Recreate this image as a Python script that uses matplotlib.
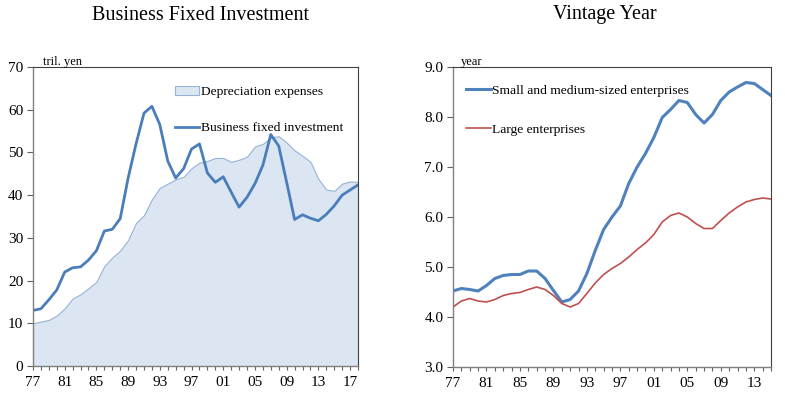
import matplotlib
matplotlib.use("Agg")
import matplotlib.pyplot as plt
from matplotlib.patches import Patch
from matplotlib.lines import Line2D
import numpy as np

plt.rcParams['font.family'] = ['Liberation Serif', 'DejaVu Serif']

# ---- Data ----
years_left = list(range(1977, 2019))
business_fixed_investment = [13.0, 13.4, 15.5, 17.8, 22.0, 23.0, 23.2, 24.8, 27.0, 31.6,
                             32.0, 34.5, 44.0, 52.0, 59.2, 60.8, 56.5, 48.0, 44.0, 46.2,
                             50.8, 52.0, 45.2, 43.0, 44.3, 40.7, 37.2, 39.5, 42.7, 47.0,
                             54.2, 51.5, 43.0, 34.3, 35.4, 34.6, 34.0, 35.5, 37.5, 40.0,
                             41.2, 42.4]
depreciation_expenses = [10.0, 10.4, 10.8, 11.8, 13.5, 15.8, 16.8, 18.2, 19.7, 23.4,
                         25.4, 27.0, 29.5, 33.5, 35.3, 39.0, 41.7, 42.7, 43.7, 44.3,
                         46.3, 47.6, 48.0, 48.7, 48.7, 47.8, 48.3, 49.0, 51.4, 52.0,
                         53.5, 53.8, 52.3, 50.5, 49.2, 47.8, 43.8, 41.3, 41.0, 42.7,
                         43.2, 43.1]

years_right = list(range(1977, 2016))
small_medium = [4.52, 4.57, 4.55, 4.52, 4.63, 4.77, 4.83, 4.85, 4.85, 4.92,
                4.92, 4.77, 4.53, 4.30, 4.35, 4.52, 4.87, 5.33, 5.75, 6.00,
                6.22, 6.67, 7.00, 7.27, 7.59, 7.99, 8.15, 8.33, 8.29, 8.05,
                7.88, 8.05, 8.33, 8.50, 8.60, 8.69, 8.67, 8.55, 8.43]
large = [4.20, 4.32, 4.37, 4.32, 4.30, 4.35, 4.43, 4.47, 4.49, 4.55,
         4.60, 4.55, 4.43, 4.27, 4.20, 4.27, 4.47, 4.68, 4.85, 4.97,
         5.07, 5.20, 5.35, 5.48, 5.65, 5.90, 6.03, 6.08, 6.00, 5.87,
         5.77, 5.77, 5.93, 6.08, 6.20, 6.30, 6.35, 6.38, 6.36]

left_ticks = list(range(1977, 2019, 4))
left_ticklabels = ['77', '81', '85', '89', '93', '97', '01', '05', '09', '13', '17']
right_ticks = list(range(1977, 2016, 4))
right_ticklabels = ['77', '81', '85', '89', '93', '97', '01', '05', '09', '13']

# ---- Figure ----
fig = plt.figure(figsize=(7.85, 3.95), dpi=100)
axL = fig.add_axes([33/785, 29/395, 325/785, 299/395])
axR = fig.add_axes([453/785, 28/395, 318/785, 300/395])

fill_color = '#DCE6F2'
fill_edge = '#95B3D7'
blue = '#4A7EBB'
red = '#C0504D'
tick_fs = 11
leg_fs = 9.7

# Left panel
axL.fill_between(years_left, depreciation_expenses, 0, facecolor=fill_color,
                 edgecolor=fill_edge, linewidth=0.8)
axL.plot(years_left, business_fixed_investment, color=blue, lw=2.0)
axL.set_xlim(1977, 2018)
axL.set_ylim(0, 70)
axL.set_yticks(range(0, 71, 10))
axL.set_xticks(left_ticks)
axL.set_xticklabels(left_ticklabels)
axL.set_xticks(years_left, minor=True)

# Right panel
axR.plot(years_right, small_medium, color='#4F81BD', lw=2.2)
axR.plot(years_right, large, color=red, lw=1.2)
axR.set_xlim(1977, 2015)
axR.set_ylim(3.0, 9.0)
axR.set_yticks(np.arange(3.0, 9.01, 1.0))
axR.set_yticklabels([f'{v:.1f}' for v in np.arange(3.0, 9.01, 1.0)])
axR.set_xticks(right_ticks)
axR.set_xticklabels(right_ticklabels)
axR.set_xticks(years_right, minor=True)

for ax in (axL, axR):
    for side in ('top', 'right'):
        ax.spines[side].set_color('#404040')
        ax.spines[side].set_linewidth(0.8)
    for side in ('left', 'bottom'):
        ax.spines[side].set_color('#808080')
        ax.spines[side].set_linewidth(1.0)
    ax.tick_params(axis='y', direction='out', length=4, width=0.8, colors='#606060',
                   labelcolor='black', labelsize=tick_fs, pad=3)
    ax.tick_params(axis='x', which='both', direction='out', length=3, width=0.8,
                   colors='#606060', labelcolor='black', labelsize=tick_fs, pad=4)

# Titles and unit labels
fig.text(200/785, 1 - 15/395, 'Business Fixed Investment', ha='center', va='center',
         fontsize=14.5)
fig.text(605/785, 1 - 15/395, 'Vintage Year', ha='center', va='center', fontsize=14.5)
axL.text(0.03, 0.998, 'tril. yen', transform=axL.transAxes, ha='left', va='bottom',
         fontsize=9)
axR.text(0.025, 0.998, 'year', transform=axR.transAxes, ha='left', va='bottom',
         fontsize=9)

# Legends
hL = [Patch(facecolor=fill_color, edgecolor=fill_edge, linewidth=0.8),
      Line2D([], [], color=blue, lw=2.0)]
axL.legend(hL, ['Depreciation expenses', 'Business fixed investment'],
           loc='upper left', bbox_to_anchor=(0.437, 0.937), frameon=False,
           fontsize=leg_fs, handlelength=1.75, handletextpad=0.15, labelspacing=1.75,
           borderpad=0, borderaxespad=0)

hR = [Line2D([], [], color='#4F81BD', lw=2.2), Line2D([], [], color=red, lw=1.2)]
axR.legend(hR, ['Small and medium-sized enterprises', 'Large enterprises'],
           loc='upper left', bbox_to_anchor=(0.041, 0.943), frameon=False,
           fontsize=leg_fs, handlelength=1.85, handletextpad=0.1, labelspacing=2.0,
           borderpad=0, borderaxespad=0)

fig.savefig('out.png', dpi=100)
